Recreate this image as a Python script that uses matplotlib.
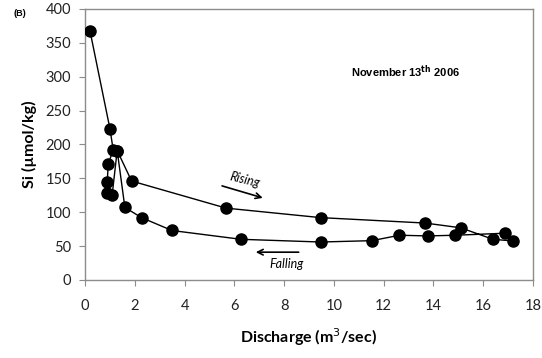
import numpy as np
import matplotlib.pyplot as plt

plt.rcParams['font.family'] = ['Lato', 'DejaVu Sans']

# discharge (m3/sec) and Si (umol/kg), in sampling order
discharge = [0.2, 1.0, 1.13, 0.93, 0.89, 0.87, 1.09, 1.29, 1.87, 5.67, 9.47, 13.67, 15.1,
             16.4, 17.2, 16.89, 14.89, 13.77, 12.64, 11.53, 9.47, 6.27, 3.49, 2.27, 1.6, 1.29]
si = [367, 223, 192, 171, 144, 129, 126, 191, 146, 106, 92, 84, 77,
      60, 57.6, 69, 66, 65, 66, 58, 56, 60, 73, 92, 107, 191]

xticks = np.arange(0, 19, 2)
yticks = np.arange(0, 401, 50)

fig = plt.figure(figsize=(5.42, 3.58), dpi=100)
ax = fig.add_axes([0.157, 0.218, 0.826, 0.757])

ax.plot(discharge, si, '-', color='black', lw=1.0, zorder=2)
ax.plot(discharge, si, 'o', color='black', ms=8, zorder=3)

ax.set_xlim(0, 18)
ax.set_ylim(0, 400)
ax.set_xticks(xticks)
ax.set_yticks(yticks)
for s in ax.spines.values():
    s.set_color('#8c8c8c')
    s.set_linewidth(1.0)
ax.tick_params(direction='out', length=4, color='#8c8c8c', labelsize=10.5,
               labelcolor='#222222', pad=6)
ax.tick_params(axis='x', pad=10)

ax.set_xlabel('Discharge (m$^3$/sec)', fontsize=11.5, fontweight='bold', labelpad=9)
ax.set_ylabel('Si (µmol/kg)', fontsize=11.5, fontweight='bold', labelpad=6)

ax.text(12.9, 307, 'November 13$^{\\mathbf{th}}$ 2006', fontsize=8, fontweight='bold',
        family='Liberation Sans', ha='center', va='center')
fig.text(0.037, 0.962, '(B)', fontsize=6.5, fontweight='bold', family='Liberation Sans',
         ha='center', va='center')

ax.text(6.4, 148, 'Rising', fontsize=9, style='italic', rotation=-14, ha='center', va='center')
ax.annotate('', xy=(7.25, 120), xytext=(5.4, 140),
            arrowprops=dict(arrowstyle='->', color='black', lw=1.2))
ax.text(8.1, 24, 'Falling', fontsize=9, style='italic', ha='center', va='center')
ax.annotate('', xy=(6.75, 41), xytext=(8.7, 41),
            arrowprops=dict(arrowstyle='->', color='black', lw=1.2))

fig.savefig('out.png', dpi=100)
